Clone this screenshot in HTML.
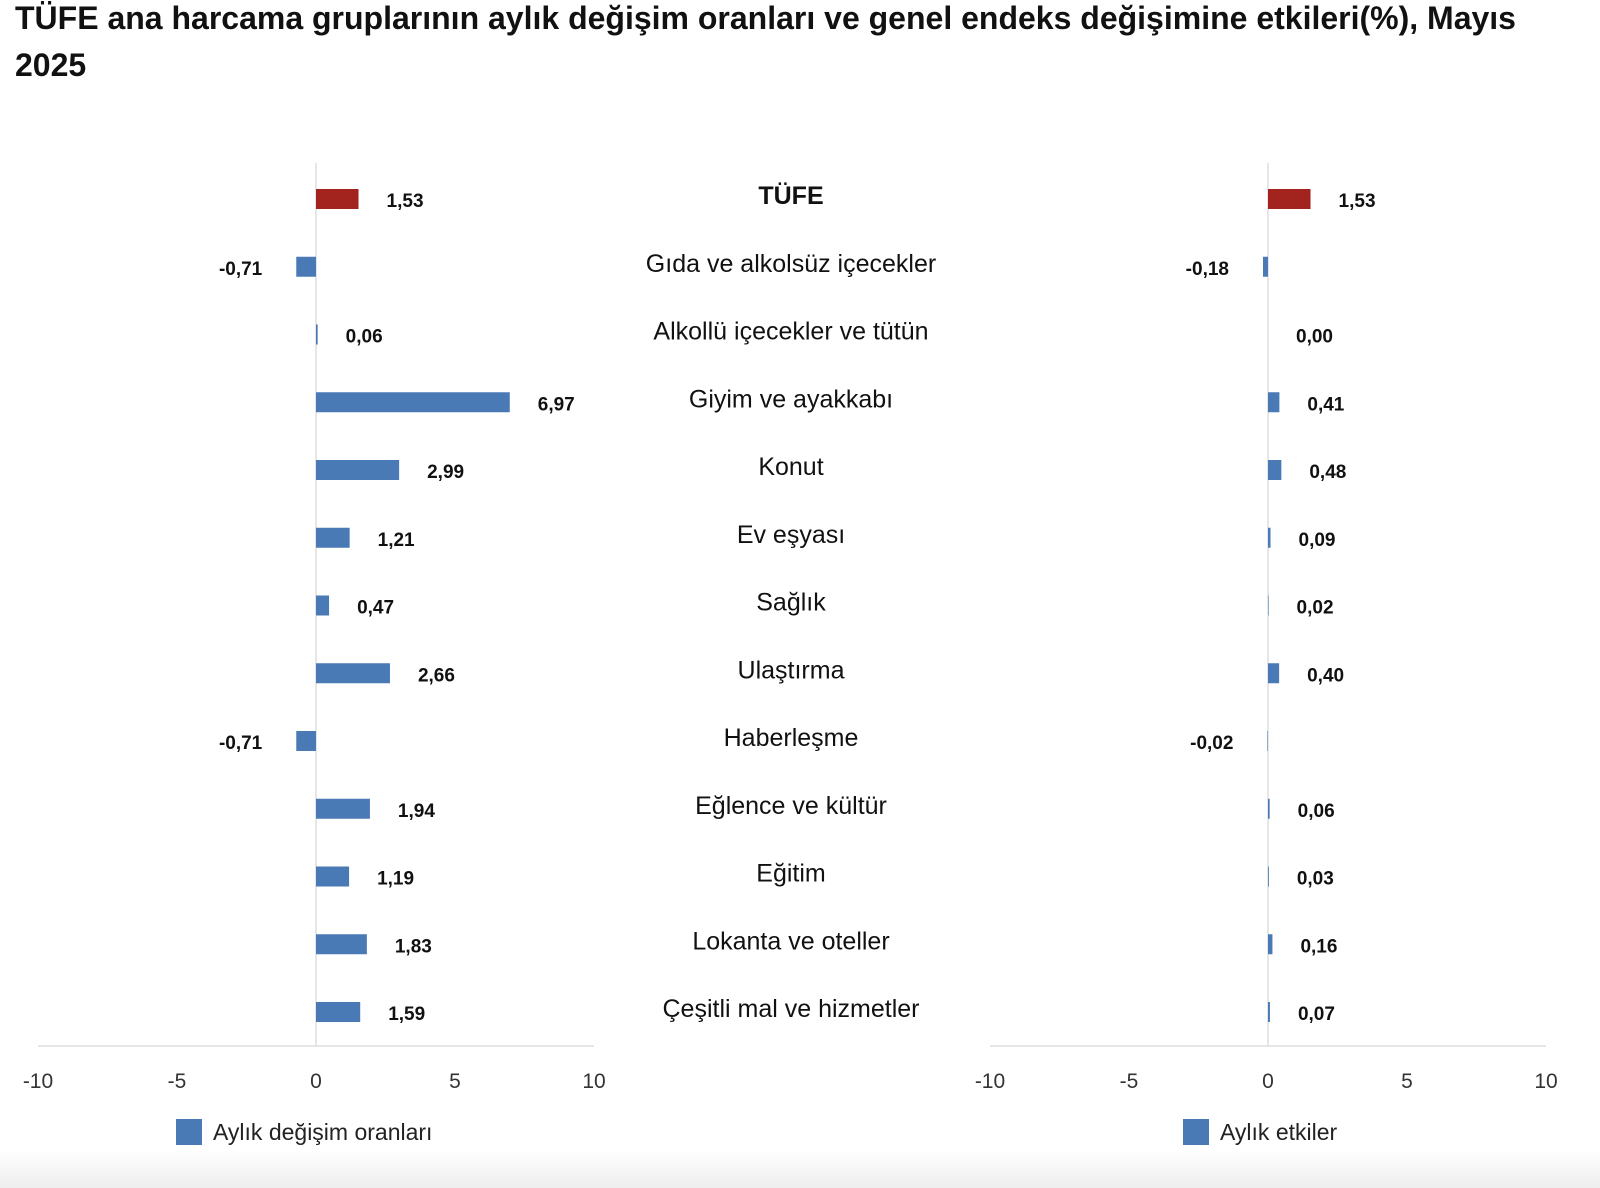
<!DOCTYPE html>
<html><head><meta charset="utf-8"><style>
body{margin:0;width:1600px;height:1188px;background:#fff;overflow:hidden;font-family:"Liberation Sans",sans-serif;}
#bg{position:absolute;left:0;top:1150px;width:1600px;height:38px;background:linear-gradient(#fff,#eee);}
h1{position:absolute;left:15px;top:-5px;margin:0;font-size:32px;line-height:47px;font-weight:bold;color:#111;width:1575px;}
svg{position:absolute;left:0;top:0;}
</style></head><body>
<div id="bg"></div>
<h1>TÜFE ana harcama gruplarının aylık değişim oranları ve genel endeks değişimine etkileri(%), Mayıs 2025</h1>
<svg id="c" width="1600" height="1188"></svg>
<script>
const categories=["TÜFE","Gıda ve alkolsüz içecekler","Alkollü içecekler ve tütün","Giyim ve ayakkabı","Konut","Ev eşyası","Sağlık","Ulaştırma","Haberleşme","Eğlence ve kültür","Eğitim","Lokanta ve oteller","Çeşitli mal ve hizmetler"];
const changeRates=[1.53,-0.71,0.06,6.97,2.99,1.21,0.47,2.66,-0.71,1.94,1.19,1.83,1.59];
const effects=[1.53,-0.18,0.00,0.41,0.48,0.09,0.02,0.40,-0.02,0.06,0.03,0.16,0.07];
const ticks=[-10,-5,0,5,10];
const NS="http://www.w3.org/2000/svg";
const svg=document.getElementById('c');
function mk(t,a,txt){const e=document.createElementNS(NS,t);for(const k in a)e.setAttribute(k,a[k]);if(txt!==undefined)e.textContent=txt;svg.appendChild(e);return e;}
const rowY=i=>199+i*67.75;
const fmt=v=>v.toFixed(2).replace('.',',');
function panel(x0,vals,legend,pname,legX){
  const sx=v=>x0+278+v*27.8;
  let e=mk('line',{x1:x0,x2:x0+556,y1:1046,y2:1046,stroke:'#ddd','stroke-width':1.5});
  
  
  e=mk('line',{x1:sx(0),x2:sx(0),y1:163,y2:1046,stroke:'#ddd','stroke-width':1.5});
  
  
  ticks.forEach(t=>{
    const l=mk('text',{x:sx(t),y:1088,'text-anchor':'middle','font-size':21,fill:'#333'},String(t));
    
    
  });
  vals.forEach((v,i)=>{
    const y=rowY(i);
    const a=sx(Math.min(0,v)),w=Math.abs(sx(v)-sx(0));
    const r=mk('rect',{x:a,y:y-10,width:Math.max(w,0),height:20,fill:i===0?'#a3231f':'#4a7ab5'});
    
    
    const tx=v<0?sx(v)-34:sx(v)+28;
    const t=mk('text',{x:tx,y:y+8,'text-anchor':v<0?'end':'start','font-size':19,'font-weight':'bold',fill:'#111'},fmt(v));
    
    
  });
  const lr=mk('rect',{x:legX,y:1119,width:26,height:26,fill:'#4a7ab5'});
  
  
  const lt=mk('text',{x:legX+37,y:1140,'font-size':23,fill:'#222'},legend);
  
  
}
panel(38,changeRates,'Aylık değişim oranları','left-chart',176);
panel(990,effects,'Aylık etkiler','right-chart',1183);
categories.forEach((c,i)=>{
  const t=mk('text',{x:791,y:rowY(i)+5,'text-anchor':'middle','font-size':25,fill:'#111','font-weight':i===0?'bold':'normal'},c);
  
  
});
</script>
</body></html>
